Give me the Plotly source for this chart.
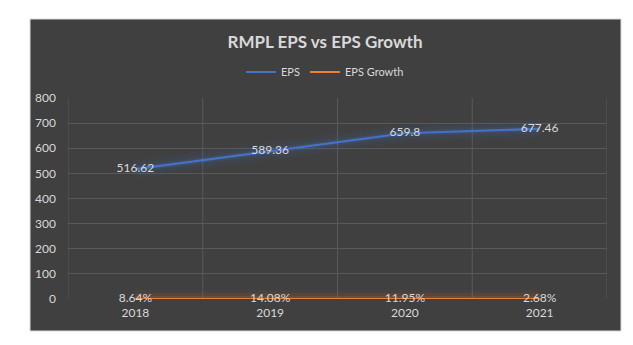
import plotly.graph_objects as go

years = ["2018", "2019", "2020", "2021"]
eps = [516.62, 589.36, 659.8, 677.46]
eps_growth = [0.0864, 0.1408, 0.1195, 0.0268]  # fraction, shown as percent
y_ticks = [0, 100, 200, 300, 400, 500, 600, 700, 800]

W, H = 633, 345
L, R, T, B = 68, 26, 98, 46
pw, ph = W - L - R, H - T - B

BLUE = "#4472c4"
ORANGE = "#ed7d31"
TXT = "#d9d9d9"
FONT = "Lato"

fig = go.Figure()

# soft glow under each line
for width, alpha in [(18, 0.05), (12, 0.08), (6, 0.14)]:
    fig.add_trace(go.Scatter(x=years, y=eps, mode="lines", hoverinfo="skip",
                             line=dict(color=f"rgba(68,114,196,{alpha})", width=width),
                             showlegend=False))
    fig.add_trace(go.Scatter(x=years, y=eps_growth, mode="lines", hoverinfo="skip",
                             line=dict(color=f"rgba(237,125,49,{alpha})", width=width),
                             showlegend=False))

fig.add_trace(go.Scatter(x=years, y=eps, mode="lines+text", name="EPS",
                         line=dict(color=BLUE, width=2.2), cliponaxis=False,
                         text=[f"{v:g}" for v in eps], textposition="middle center",
                         textfont=dict(color=TXT, size=12, family=FONT)))
fig.add_trace(go.Scatter(x=years, y=eps_growth, mode="lines+text", name="EPS Growth",
                         line=dict(color=ORANGE, width=2.2), cliponaxis=False,
                         text=[f"{v * 100:.2f}%" for v in eps_growth],
                         textposition="middle center",
                         textfont=dict(color=TXT, size=12, family=FONT)))

# dark chart frame behind everything
fig.add_shape(type="rect", xref="paper", yref="paper", layer="below",
              x0=(30 - L) / pw, x1=(621 - L) / pw,
              y0=(H - B - 331) / ph, y1=(H - B - 19) / ph,
              fillcolor="#404040", line=dict(color="#d9d9d9", width=1))

# vertical category dividers
for k in range(5):
    fig.add_shape(type="line", xref="x", yref="y", layer="below",
                  x0=k - 0.5, x1=k - 0.5, y0=0, y1=800,
                  line=dict(color="#595959", width=1))

fig.update_layout(
    width=W, height=H,
    margin=dict(l=L, r=R, t=T, b=B, autoexpand=False),
    paper_bgcolor="white",
    plot_bgcolor="rgba(0,0,0,0)",
    font=dict(family=FONT, color=TXT, size=12),
    title=dict(text="<b>RMPL EPS vs EPS Growth</b>", x=325 / W, xanchor="center",
               y=1 - 42 / H, yanchor="middle",
               font=dict(size=17, color=TXT, family=FONT)),
    legend=dict(orientation="h", x=325 / W, xref="container", xanchor="center",
                y=1 - 72 / H, yref="container", yanchor="middle",
                font=dict(size=11, color=TXT, family=FONT),
                bgcolor="rgba(0,0,0,0)", traceorder="normal",
                itemwidth=30),
    showlegend=True,
)
fig.update_xaxes(range=[-0.5, 3.5], showgrid=False, zeroline=False, showline=False,
                 ticks="", tickfont=dict(size=12, color=TXT, family=FONT),
                 ticklabelstandoff=5, fixedrange=True)
fig.update_yaxes(range=[0, 800], tickvals=y_ticks, showgrid=True, gridcolor="#595959",
                 gridwidth=1, zeroline=False, showline=False, ticks="",
                 tickfont=dict(size=12, color=TXT, family=FONT),
                 ticklabelstandoff=11, fixedrange=True)

fig.write_html("out.html")
